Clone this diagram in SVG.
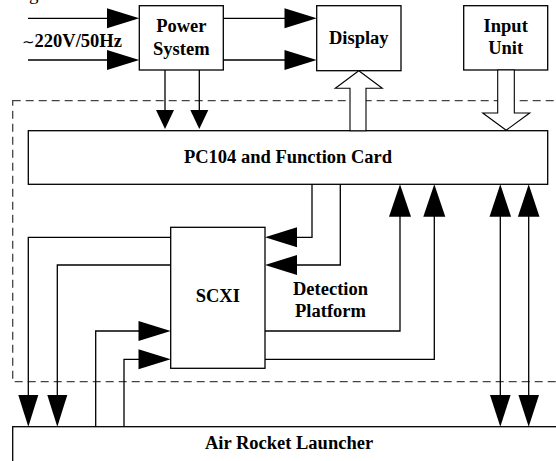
<svg xmlns="http://www.w3.org/2000/svg" width="556" height="461" viewBox="0 0 556 461">
<style>
.box{fill:#fff;stroke:#000;stroke-width:1.3}
.ln{fill:none;stroke:#000;stroke-width:1.3}
.hd{fill:#000;stroke:none}
.hol{fill:#fff;stroke:#000;stroke-width:1.1}
.dash{fill:none;stroke:#444;stroke-width:1.3;stroke-dasharray:8,5}
.t{font-family:"Liberation Serif","Times New Roman",serif;font-weight:bold;font-size:18.5px;text-anchor:middle;fill:#000}
</style>
<rect width="556" height="461" fill="#fff"/>
<text x="29" y="0" style="font-family:'Liberation Serif',serif;font-size:19px;fill:#000">g</text>
<rect class="dash" x="12.7" y="100.7" width="560" height="281"/>
<g id="power"><rect class="box" x="139.3" y="5.7" width="84" height="64.3"/><text class="t" x="181.3" y="32">Power</text><text class="t" x="181.3" y="55">System</text></g>
<g id="display"><rect class="box" x="316.7" y="5.7" width="84.3" height="65"/><text class="t" x="358.8" y="43.5">Display</text></g>
<g id="input"><rect class="box" x="463.7" y="5.7" width="84" height="64.3"/><text class="t" x="505.7" y="32">Input</text><text class="t" x="505.7" y="54">Unit</text></g>
<g id="pc104"><rect class="box" x="28.3" y="130.7" width="519.4" height="53.6"/><text class="t" x="288" y="162.5">PC104 and Function Card</text></g>
<g id="scxi"><rect class="box" x="170.7" y="227.3" width="94.3" height="141"/><text class="t" x="217.8" y="302">SCXI</text></g>
<g id="launcher"><rect class="box" x="12.7" y="426.7" width="560" height="50"/><text class="t" x="289" y="449">Air Rocket Launcher</text></g>
<g id="labels">
<text x="22" y="47" style="font-family:'Liberation Serif',serif;font-size:18.5px;fill:#000"><tspan style="font-family:'DejaVu Sans',sans-serif;font-size:15px">∼</tspan><tspan font-weight="bold">220V/50Hz</tspan></text>
<text class="t" x="330.5" y="295">Detection</text><text class="t" x="330.5" y="316.7">Platform</text>
</g>
<g id="connectors">
<path class="ln" d="M28,18.3H110M28,60H110M223.3,18.3H288M223.3,60H288"/>
<polygon class="hd" points="107,8.3 139.3,18.3 107,28.3"/>
<polygon class="hd" points="107,50 139.3,60 107,70"/>
<polygon class="hd" points="284.5,8.3 316.7,18.3 284.5,28.3"/>
<polygon class="hd" points="284.5,50 316.7,60 284.5,70"/>
<path class="ln" d="M165,70V112M199.3,70V112"/>
<polygon class="hd" points="156,110 165,129 174,110"/>
<polygon class="hd" points="190.3,110 199.3,129 208.3,110"/>
<polygon class="hol" points="350,130.7 350,88.3 335.3,88.3 358.8,70.7 382.3,88.3 366,88.3 366,130.7"/>
<polygon class="hol" points="497.7,70 497.7,113 482.7,113 506.2,130.2 529.7,113 514.3,113 514.3,70"/>
<path class="ln" d="M312,184.3V237.3H295M340.3,184.3V265H295"/>
<polygon class="hd" points="297,227.3 265,237.3 297,247.3"/>
<polygon class="hd" points="297,255 265,265 297,275"/>
<path class="ln" d="M170.7,237.3H28.3V397M170.7,265H57.3V397"/>
<polygon class="hd" points="18.3,395 28.3,426.7 38.3,395"/>
<polygon class="hd" points="47.3,395 57.3,426.7 67.3,395"/>
<path class="ln" d="M95.7,426.7V331H141M124,426.7V359.3H141"/>
<polygon class="hd" points="138.5,321 170.7,331 138.5,341"/>
<polygon class="hd" points="138.5,349.3 170.7,359.3 138.5,369.3"/>
<path class="ln" d="M265,331H400V214M265,359.3H434.3V214"/>
<polygon class="hd" points="389,216.7 400,184.3 411,216.7"/>
<polygon class="hd" points="423.3,216.7 434.3,184.3 445.3,216.7"/>
<path class="ln" d="M500.3,214V397M528.7,214V397"/>
<polygon class="hd" points="489.5,216.7 500.3,184.3 511.1,216.7"/>
<polygon class="hd" points="517.9,216.7 528.7,184.3 539.5,216.7"/>
<polygon class="hd" points="490,395 500.3,426.7 510.6,395"/>
<polygon class="hd" points="518.4,395 528.7,426.7 539,395"/>
</g>
</svg>
